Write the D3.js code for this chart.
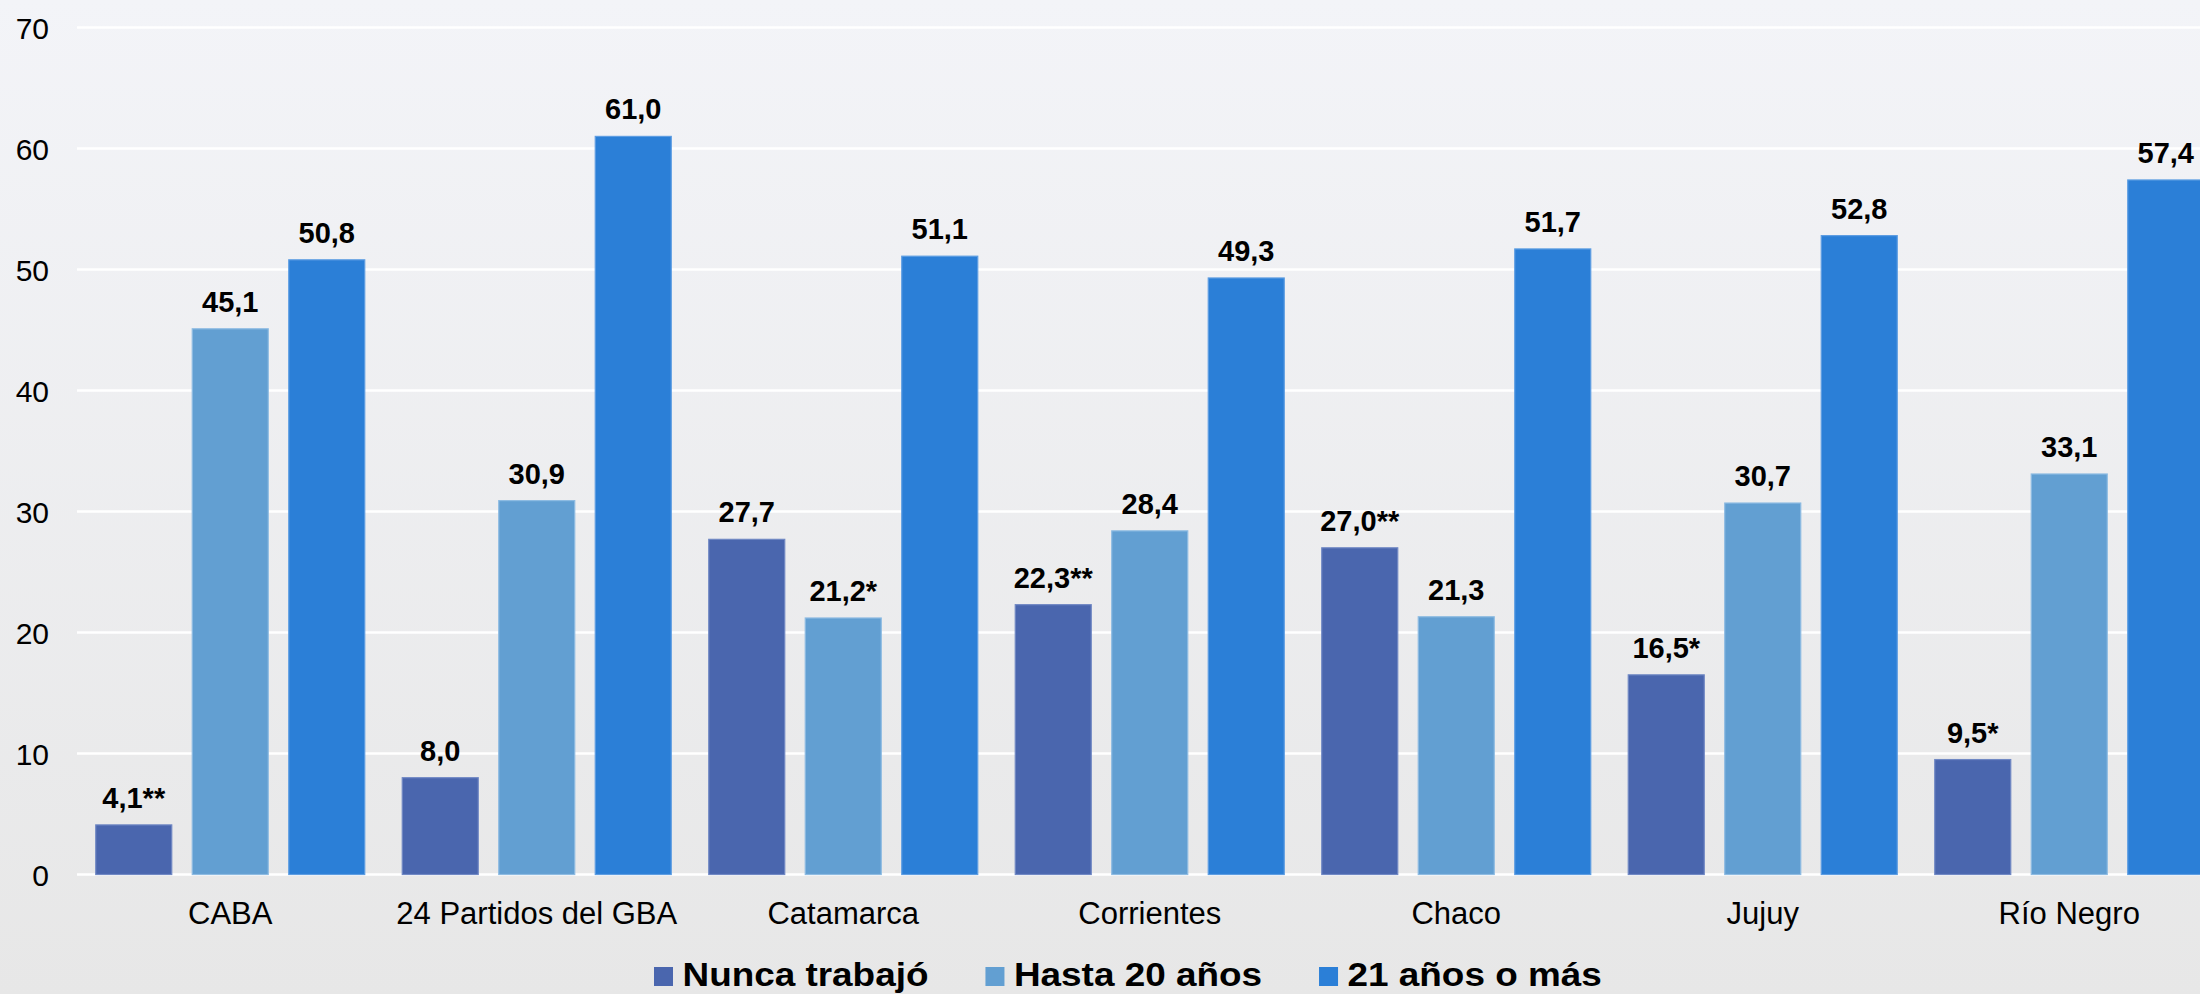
<!DOCTYPE html>
<html><head><meta charset="utf-8">
<script src="https://cdn.jsdelivr.net/npm/d3@7"></script>
<style>
html,body{margin:0;padding:0;overflow:hidden;}
svg{display:block;font-family:"Liberation Sans",Arial,sans-serif;}
</style></head>
<body>
<svg id="chart" width="2200" height="994"></svg>
<script>
const categories = ["CABA","24 Partidos del GBA","Catamarca","Corrientes","Chaco","Jujuy","Río Negro"];
const seriesNames = ["Nunca trabajó","Hasta 20 años","21 años o más"];
const nuncaTrabajo = [4.1, 8.0, 27.7, 22.3, 27.0, 16.5, 9.5];
const hasta20 = [45.1, 30.9, 21.2, 28.4, 21.3, 30.7, 33.1];
const mas21 = [50.8, 61.0, 51.1, 49.3, 51.7, 52.8, 57.4];
const nuncaNotes = ["**","","","**","**","*","*"];
const hasta20Notes = ["","","*","","","",""];
const mas21Notes = ["","","","","","",""];
const yTicks = [0,10,20,30,40,50,60,70];
const colors = ["#4A66AE","#629FD2","#2B7FD7"];
const strokes = ["#7088c4","#8dbbe2","#5d9de2"];

const seriesValues = [nuncaTrabajo, hasta20, mas21];
const seriesNotes = [nuncaNotes, hasta20Notes, mas21Notes];

const svg = d3.select("#chart");
const W = 2200, H = 994;

const defs = svg.append("defs");
const grad = defs.append("linearGradient").attr("id","bg").attr("x1",0).attr("y1",0).attr("x2",0).attr("y2",1);
grad.append("stop").attr("offset","0%").attr("stop-color","#F3F4F8");
grad.append("stop").attr("offset","100%").attr("stop-color","#E7E7E7");
svg.append("rect").attr("width",W).attr("height",H).attr("fill","url(#bg)");

const x0 = d3.scaleBand().domain(categories).range([77, 77 + 7*306.5]).paddingInner(0).paddingOuter(0);
const x1 = d3.scaleBand().domain(d3.range(3)).range([18.75, 287.75]).paddingInner(20.5/96.5).paddingOuter(0);
const y = d3.scaleLinear().domain([0,70]).range([874.5, 27.5]);

// gridlines
svg.append("g").selectAll("line").data(yTicks).join("line")
  .attr("x1",77).attr("x2",W)
  .attr("y1",d=>y(d)).attr("y2",d=>y(d))
  .attr("stroke","#ffffff").attr("stroke-width",2.5);

// y axis labels
const yAxis = d3.axisLeft(y).tickValues(yTicks).tickSize(0).tickPadding(0).tickFormat(d3.format("d"));
const gy = svg.append("g").attr("transform","translate(49,0)").call(yAxis);
gy.select(".domain").remove();
gy.selectAll("text").attr("font-size","30px").attr("fill","#000").attr("font-family","\"Liberation Sans\",Arial,sans-serif").attr("dy","0.35em");

// bars
const rows = [];
categories.forEach((c,i)=>{
  seriesValues.forEach((vals,s)=>{
    rows.push({cat:c, s:s, v:vals[i], note:seriesNotes[s][i]});
  });
});
const fmt = v => d3.format(".1f")(v).replace(".",",");

svg.append("g").selectAll("rect").data(rows).join("rect")
  .attr("x",d=>x0(d.cat)+x1(d.s))
  .attr("width",x1.bandwidth())
  .attr("y",d=>y(d.v))
  .attr("height",d=>y(0)-y(d.v))
  .attr("fill",d=>colors[d.s])
  .attr("stroke",d=>strokes[d.s]).attr("stroke-width",1.2);

svg.append("g").selectAll("text").data(rows).join("text")
  .attr("x",d=>x0(d.cat)+x1(d.s)+x1.bandwidth()/2)
  .attr("y",d=>y(d.v)-17)
  .attr("text-anchor","middle")
  .attr("font-size","29px").attr("font-weight","bold").attr("fill","#000")
  .text(d=>fmt(d.v)+d.note);

// x axis labels
const xAxis = d3.axisBottom(x0).tickSize(0).tickPadding(0);
const gx = svg.append("g").attr("transform","translate(0,924)").call(xAxis);
gx.select(".domain").remove();
gx.selectAll("text").attr("font-size","31px").attr("fill","#000").attr("dy","0").attr("font-family","\"Liberation Sans\",Arial,sans-serif");

// legend
const lg = svg.append("g").attr("transform","translate(654,986)");
const sx = 1.085;
let cx = 0;
seriesNames.forEach((n,i)=>{
  lg.append("rect").attr("x",cx).attr("y",-19).attr("width",19).attr("height",19).attr("fill",colors[i]);
  const t = lg.append("text").attr("transform",`translate(${cx+28.5},0) scale(${sx},1)`)
    .attr("font-size","34px").attr("font-weight","bold").attr("fill","#000").text(n);
  const w = t.node().getComputedTextLength()*sx;
  cx += 28.5 + w + 57;
});
</script>
</body></html>
